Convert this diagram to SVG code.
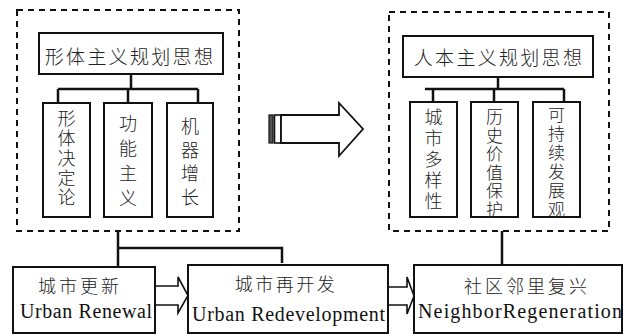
<svg xmlns="http://www.w3.org/2000/svg" width="627" height="334" viewBox="0 0 627 334">
<style>
.box{fill:#fff;stroke:#111;stroke-width:2}
.dash{fill:none;stroke:#111;stroke-width:2;stroke-dasharray:6 5}
.ln{fill:none;stroke:#111;stroke-width:2.5}
.thin{fill:none;stroke:#111;stroke-width:1.6}
.zh{font-family:"Noto Sans CJK SC","Noto Sans",sans-serif;font-weight:300;fill:#222;text-anchor:middle;dominant-baseline:central}
.en{font-family:"Liberation Serif",serif;font-size:20px;fill:#111}
</style>
<rect width="627" height="334" fill="#fff"/>
<g id="connectors">
<path class="ln" d="M131 74V89M58 89H198M58 89V103M128 89V103M198 89V103"/>
<path class="ln" d="M498 77V89M425 89H564M433 89V102M494 89V102M564 89V102"/>
<path class="ln" d="M118 231V267M118 248H282V263"/>
<path class="ln" d="M502 231V265"/>
<path class="thin" d="M155 286H178V277L188 295.5L178 313V305H155"/>
<path class="thin" d="M388 287H407V277L414 296L407 314V305H388"/>
</g>
<g id="left-group">
<rect class="dash" x="17" y="10" width="222" height="221"/>
</g>
<g id="right-group">
<rect class="dash" x="389" y="12" width="220" height="219"/>
</g>
<g id="title-left">
<rect class="box" x="39" y="33" width="184" height="41"/>
<text class="zh" x="130" y="55" font-size="19" letter-spacing="2.3">形体主义规划思想</text>
</g>
<g id="title-right">
<rect class="box" x="403" y="36" width="190" height="41"/>
<text class="zh" x="499" y="56" font-size="19" letter-spacing="2.3">人本主义规划思想</text>
</g>
<g id="c-xingti">
<rect class="box" x="43" y="103" width="47" height="114"/>
<text class="zh" font-size="18"><tspan x="66.5" y="117">形</tspan><tspan x="66.5" y="137">体</tspan><tspan x="66.5" y="157">决</tspan><tspan x="66.5" y="176.5">定</tspan><tspan x="66.5" y="196">论</tspan></text>
</g>
<g id="c-gongneng">
<rect class="box" x="104" y="103" width="48" height="114"/>
<text class="zh" font-size="18"><tspan x="128" y="122">功</tspan><tspan x="128" y="147">能</tspan><tspan x="128" y="172">主</tspan><tspan x="128" y="197">义</tspan></text>
</g>
<g id="c-jiqi">
<rect class="box" x="167" y="103" width="46" height="114"/>
<text class="zh" font-size="18"><tspan x="190" y="125">机</tspan><tspan x="190" y="148.5">器</tspan><tspan x="190" y="172">增</tspan><tspan x="190" y="196">长</tspan></text>
</g>
<g id="c-duoyang">
<rect class="box" x="410" y="102" width="47" height="115"/>
<text class="zh" font-size="18"><tspan x="433.5" y="116">城</tspan><tspan x="433.5" y="137">市</tspan><tspan x="433.5" y="158">多</tspan><tspan x="433.5" y="179">样</tspan><tspan x="433.5" y="200">性</tspan></text>
</g>
<g id="c-lishi">
<rect class="box" x="471" y="102" width="47" height="115"/>
<text class="zh" font-size="17"><tspan x="494.5" y="115">历</tspan><tspan x="494.5" y="133.5">史</tspan><tspan x="494.5" y="152">价</tspan><tspan x="494.5" y="170.5">值</tspan><tspan x="494.5" y="189">保</tspan><tspan x="494.5" y="207.5">护</tspan></text>
</g>
<g id="c-kechixu">
<rect class="box" x="533" y="102" width="47" height="115"/>
<text class="zh" font-size="17"><tspan x="556.5" y="113">可</tspan><tspan x="556.5" y="132">持</tspan><tspan x="556.5" y="151">续</tspan><tspan x="556.5" y="170">发</tspan><tspan x="556.5" y="189">展</tspan><tspan x="556.5" y="208">观</tspan></text>
</g>
<g id="big-arrow">
<rect x="269" y="115" width="4" height="28" fill="#555" stroke="#111" stroke-width="1.2"/>
<rect x="274.5" y="115" width="6.5" height="28" fill="#fff" stroke="#111" stroke-width="1.6"/>
<polygon points="281,115 339,115 339,103 363,129 339,156 339,143 281,143" fill="#fff" stroke="#111" stroke-width="1.8"/>
</g>
<g id="n-renewal">
<rect class="box" x="13" y="267" width="142" height="66"/>
<text class="zh" x="80" y="285" font-size="18" letter-spacing="3">城市更新</text>
<text class="en" x="20" y="318" textLength="132" lengthAdjust="spacing">Urban Renewal</text>
</g>
<g id="n-redevelopment">
<rect class="box" x="188" y="265" width="200" height="68"/>
<text class="zh" x="286" y="283" font-size="18" letter-spacing="2.5">城市再开发</text>
<text class="en" x="192" y="321" textLength="193" lengthAdjust="spacing">Urban Redevelopment</text>
</g>
<g id="n-neighbor">
<rect class="box" x="414" y="265" width="208" height="68"/>
<text class="zh" x="527" y="285" font-size="18" letter-spacing="3">社区邻里复兴</text>
<text class="en" x="418" y="318" textLength="204" lengthAdjust="spacing">NeighborRegeneration</text>
</g>
</svg>
